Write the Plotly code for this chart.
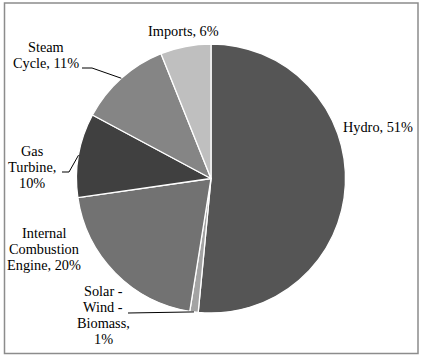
import math
import plotly.graph_objects as go

names = ["Hydro", "Solar - Wind - Biomass", "Internal Combustion Engine", "Gas Turbine", "Steam Cycle", "Imports"]
values = [51, 1, 20, 10, 11, 6]
colors = ["#555555", "#a3a3a3", "#727272", "#404040", "#858585", "#bfbfbf"]

# label texts (one entry per line)
label_lines = [
    ["Hydro, 51%"],
    ["Solar -", "Wind -", "Biomass,", "1%"],
    ["Internal", "Combustion", "Engine, 20%"],
    ["Gas", "Turbine,", "10%"],
    ["Steam", "Cycle, 11%"],
    ["Imports, 6%"],
]

W, H = 422, 357
cx, cy, r = 211, 178.5, 134.5

fig = go.Figure(go.Pie(
    labels=names, values=values, sort=False, direction="clockwise", rotation=0,
    marker=dict(colors=colors, line=dict(color="white", width=1.3)),
    textinfo="none", hoverinfo="label+percent", showlegend=False,
    domain=dict(x=[(cx - r) / W, (cx + r) / W], y=[(H - cy - r) / H, (H - cy + r) / H]),
))

# label centre positions (px)
label_pos = [(378, 127), (103, 315), (44, 249), (32, 167), (46, 55), (183, 31)]
line_h = 16

font = dict(family="Liberation Serif", size=14.3, color="black")
for lines, (x, y) in zip(label_lines, label_pos):
    n = len(lines)
    for k, t in enumerate(lines):
        yy = y + (k - (n - 1) / 2) * line_h
        fig.add_annotation(x=x / W, y=1 - yy / H, xref="paper", yref="paper", text=t,
                           showarrow=False, font=font, align="center",
                           xanchor="center", yanchor="middle")

# leader lines: from label elbow to slice mid-angle on pie edge
total = sum(values)
cum = 0
mids = []
for v in values:
    mids.append((cum + v / 2) / total * 2 * math.pi)
    cum += v

def edge(i):
    a = mids[i]
    return cx + r * math.sin(a), cy - r * math.cos(a)

leaders = {4: [(82, 68), (92, 68)], 3: [(62, 172), (69, 172)], 1: [(128, 313)]}
for i, pts in leaders.items():
    ex, ey = edge(i)
    path_pts = pts + [(ex, ey)]
    d = "M " + " L ".join(f"{px / W},{1 - py / H}" for px, py in path_pts)
    fig.add_shape(type="path", path=d, xref="paper", yref="paper",
                  line=dict(color="black", width=1))

# border
fig.add_shape(type="rect", x0=4.5 / W, x1=418 / W, y0=1 - 353.5 / H, y1=1 - 3 / H,
              xref="paper", yref="paper", line=dict(color="#8c8c8c", width=1.5))

fig.update_layout(width=W, height=H, margin=dict(l=0, r=0, t=0, b=0),
                  font=dict(family="Liberation Serif", size=14.3, color="black"),
                  paper_bgcolor="white", plot_bgcolor="white")
fig.write_html("out.html", config={"displayModeBar": False},
               post_script="document.body.style.margin='0';document.body.style.overflow='hidden';")
